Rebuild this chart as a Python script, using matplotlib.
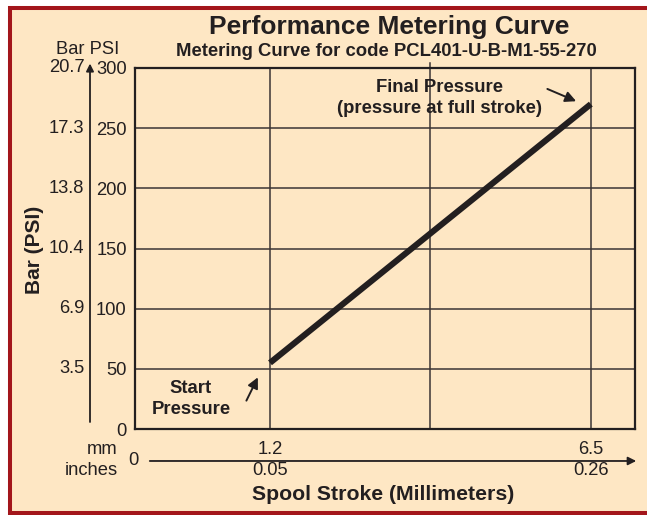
import matplotlib
matplotlib.use("Agg")
import matplotlib.pyplot as plt
from matplotlib.patches import Rectangle
import matplotlib.transforms as mtransforms

plt.rcParams['font.family'] = ['Liberation Sans', 'DejaVu Sans']

# data
stroke_mm = [1.2, 6.5]
pressure_psi = [55, 270]
grid_mm = [1.2, 3.85, 6.5]
psi_ticks = [0, 50, 100, 150, 200, 250, 300]
bar_labels = ['3.5', '6.9', '10.4', '13.8', '17.3', '20.7']
bar_ticks = [50, 100, 150, 200, 250, 300]
mm_labels = ['1.2', '6.5']
inch_labels = ['0.05', '0.26']

cream = '#fee7c4'
red = '#a3161b'
ink = '#231f20'
W, H = 647, 515
fs = 13.2

fig = plt.figure(figsize=(6.47, 5.15), dpi=100, facecolor='white')

# outer frame with red border
fig.patches.append(Rectangle((10 / W, 2 / H), 700 / W, 505 / H, transform=fig.transFigure,
                             facecolor=cream, edgecolor=red, linewidth=2.9, zorder=-10))

ax = fig.add_axes([135 / W, (H - 429) / H, 500 / W, 361 / H])
ax.set_facecolor(cream)
ax.set_xlim(-1.03, 7.23)
ax.set_ylim(0, 300)

for y in psi_ticks[1:-1]:
    ax.axhline(y, color='#3b3535', lw=1.1, zorder=1)
for x in grid_mm:
    ax.axvline(x, color='#3b3535', lw=1.1, zorder=1)
# small tick sticking out above the frame
ax.plot([3.85, 3.85], [300, 304], color='#3b3535', lw=1.1, clip_on=False)

ax.plot(stroke_mm, pressure_psi, color=ink, lw=4.4, solid_capstyle='butt', zorder=3)

for s in ax.spines.values():
    s.set_color(ink)
    s.set_linewidth(1.6)

ax.set_xticks([])
ax.set_yticks(psi_ticks)
ax.set_yticklabels([str(v) for v in psi_ticks])
ax.tick_params(axis='y', length=0, pad=6, labelsize=fs, labelcolor=ink)

# bar labels and vertical arrow
tr_y = mtransforms.blended_transform_factory(ax.transAxes, ax.transData)
for v, lab in zip(bar_ticks, bar_labels):
    ax.text(-0.101, v, lab, transform=tr_y, ha='right', va='center', fontsize=fs, color=ink)
ax.annotate('', xy=(-0.09, 306), xytext=(-0.09, 3.5), xycoords=tr_y, textcoords=tr_y,
            arrowprops=dict(arrowstyle='-|>', color=ink, lw=1.3, mutation_scale=11))

# lower stroke axis
tr_x = mtransforms.blended_transform_factory(ax.transData, ax.transAxes)
ax.annotate('', xy=(1.008, -0.0886), xytext=(0.024, -0.0886), xycoords='axes fraction',
            arrowprops=dict(arrowstyle='-|>', color=ink, lw=1.3, mutation_scale=12))
ax.text(-0.004, -0.0886, '0', transform=ax.transAxes, ha='center', va='center', fontsize=fs, color=ink)
ax.text(-0.034, -0.058, 'mm', transform=ax.transAxes, ha='right', va='center', fontsize=fs, color=ink)
ax.text(-0.034, -0.114, 'inches', transform=ax.transAxes, ha='right', va='center', fontsize=fs, color=ink)
for x, m, i in zip(stroke_mm, mm_labels, inch_labels):
    ax.text(x, -0.058, m, transform=tr_x, ha='center', va='center', fontsize=fs, color=ink)
    ax.text(x, -0.114, i, transform=tr_x, ha='center', va='center', fontsize=fs, color=ink)

# annotations
ax.text(4.0, 275, 'Final Pressure\n(pressure at full stroke)', ha='center', va='center',
        fontsize=13.3, fontweight='bold', color=ink, linespacing=1.3)
ax.annotate('', xy=(6.30, 271.5), xytext=(5.74, 283.5),
            arrowprops=dict(arrowstyle='-|>', color=ink, lw=1.4, mutation_scale=16))
ax.text(-0.105, 25, 'Start\nPressure', ha='center', va='center',
        fontsize=13.3, fontweight='bold', color=ink, linespacing=1.3)
ax.annotate('', xy=(1.02, 45), xytext=(0.79, 21.5),
            arrowprops=dict(arrowstyle='-|>', color=ink, lw=1.4, mutation_scale=16))

# titles and axis names
fig.text(389 / W, 1 - 27 / H, 'Performance Metering Curve', ha='center', va='center',
         fontsize=19, fontweight='bold', color=ink)
fig.text(386 / W, 1 - 51 / H, 'Metering Curve for code PCL401-U-B-M1-55-270', ha='center', va='center',
         fontsize=13.3, fontweight='bold', color=ink)
fig.text(88 / W, 1 - 50 / H, 'Bar PSI', ha='center', va='center', fontsize=fs, color=ink)
fig.text(35 / W, 1 - 250 / H, 'Bar (PSI)', ha='center', va='center', rotation=90,
         fontsize=15, fontweight='bold', color=ink)
fig.text(383 / W, 1 - 494 / H, 'Spool Stroke (Millimeters)', ha='center', va='center',
         fontsize=15.3, fontweight='bold', color=ink)

fig.savefig('out.png', dpi=100, facecolor='white')
